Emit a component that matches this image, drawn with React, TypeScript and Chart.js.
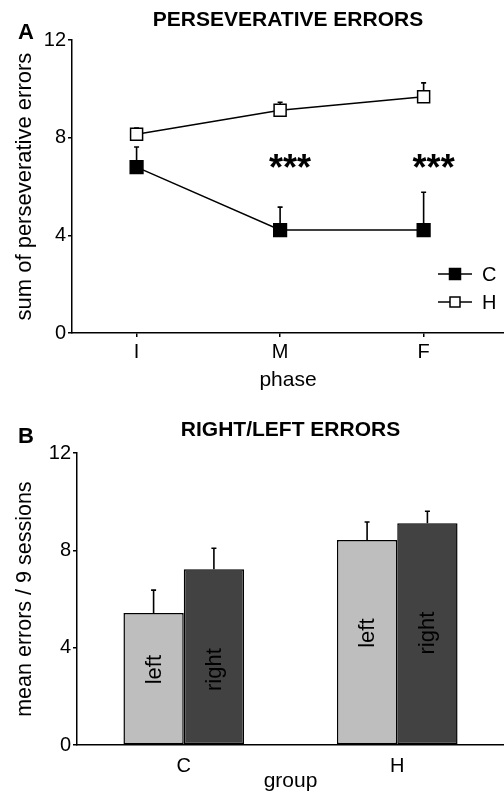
import React, { useEffect, useRef } from 'react';
import { Chart, registerables } from 'chart.js';

Chart.register(...registerables);

const FONT = '"Liberation Sans", Arial, Helvetica, sans-serif';

// ---- Panel A data ----
const phases = ['I', 'M', 'F'];
const phaseX = [0, 1, 2];
const cMeans = [6.8, 4.22, 4.22];
const cErrs = [0.82, 0.94, 1.55];
const hMeans = [8.15, 9.13, 9.68];
const hErrs = [0.25, 0.33, 0.57];
const stars = ['', '***', '***'];
const starLevel = 7.0;

// ---- Panel B data ----
const groups = ['C', 'H'];
const leftMeans = [5.43, 8.43];
const leftErrs = [0.94, 0.74];
const rightMeans = [7.23, 9.12];
const rightErrs = [0.86, 0.49];
const sideLabels = ['left', 'right'];

const errorBarPlugin = {
  id: 'errorBars',
  beforeDatasetsDraw(chart: any) {
    const ctx = chart.ctx;
    const yScale = chart.scales.y;
    chart.data.datasets.forEach((ds: any, i: number) => {
      const errs = ds.errors;
      if (!errs) return;
      const meta = chart.getDatasetMeta(i);
      meta.data.forEach((el: any, j: number) => {
        const d = ds.data[j];
        const val = typeof d === 'number' ? d : d.y;
        const x = el.x;
        const y0 = yScale.getPixelForValue(val);
        const y1 = yScale.getPixelForValue(val + errs[j]);
        ctx.save();
        ctx.strokeStyle = '#000';
        ctx.lineWidth = 1.6;
        ctx.beginPath();
        ctx.moveTo(x, y0);
        ctx.lineTo(x, y1);
        ctx.moveTo(x - 2.5, y1);
        ctx.lineTo(x + 2.5, y1);
        ctx.stroke();
        ctx.restore();
      });
    });
  },
};

const panelLabelPlugin = {
  id: 'panelLabel',
  afterDraw(chart: any, _args: any, opts: any) {
    const ctx = chart.ctx;
    ctx.save();
    ctx.fillStyle = '#000';
    ctx.font = `bold 22px ${FONT}`;
    ctx.textAlign = 'center';
    ctx.textBaseline = 'middle';
    ctx.fillText(opts.text, opts.x, opts.y);
    ctx.restore();
  },
};

const starsLegendPlugin = {
  id: 'starsLegend',
  afterDraw(chart: any) {
    const ctx = chart.ctx;
    const xs = chart.scales.x;
    const ys = chart.scales.y;
    ctx.save();
    ctx.fillStyle = '#000';
    ctx.font = `bold 36px ${FONT}`;
    ctx.textAlign = 'center';
    ctx.textBaseline = 'alphabetic';
    stars.forEach((s, i) => {
      if (!s) return;
      ctx.fillText(s, xs.getPixelForValue(phaseX[i]) + 10, ys.getPixelForValue(starLevel) + 18);
    });
    // legend
    const right = chart.chartArea.right;
    chart.data.datasets.forEach((ds: any, i: number) => {
      const cy = 274 + i * 28;
      ctx.strokeStyle = '#000';
      ctx.lineWidth = 1.5;
      ctx.beginPath();
      ctx.moveTo(right - 66, cy);
      ctx.lineTo(right - 32, cy);
      ctx.stroke();
      const side = i === 0 ? 11 : 10;
      ctx.fillStyle = ds.pointBackgroundColor;
      ctx.fillRect(right - 49 - side / 2, cy - side / 2, side, side);
      ctx.strokeRect(right - 49 - side / 2, cy - side / 2, side, side);
      ctx.fillStyle = '#000';
      ctx.font = `20px ${FONT}`;
      ctx.textAlign = 'left';
      ctx.textBaseline = 'middle';
      ctx.fillText(ds.label, right - 22, cy + 1);
    });
    ctx.restore();
  },
};

const barLabelPlugin = {
  id: 'barLabels',
  afterDatasetsDraw(chart: any) {
    const ctx = chart.ctx;
    const m0 = chart.getDatasetMeta(0);
    ctx.save();
    ctx.fillStyle = '#000';
    ctx.font = `22px ${FONT}`;
    ctx.textAlign = 'center';
    ctx.textBaseline = 'middle';
    groups.forEach((_g, j) => {
      const ref = m0.data[j];
      const mid = (ref.y + ref.base) / 2 - 9;
      chart.data.datasets.forEach((_ds: any, i: number) => {
        const el = chart.getDatasetMeta(i).data[j];
        ctx.save();
        ctx.translate(el.x, mid);
        ctx.rotate(-Math.PI / 2);
        ctx.fillText(sideLabels[i], 0, 1);
        ctx.restore();
      });
    });
    ctx.restore();
  },
};

const axisCommon = {
  grid: { drawOnChartArea: false, drawTicks: true, tickLength: 4, color: '#000', lineWidth: 1.5 },
  border: { color: '#000', width: 1.5 },
};

export default function App() {
  const topRef = useRef<HTMLCanvasElement>(null);
  const botRef = useRef<HTMLCanvasElement>(null);

  useEffect(() => {
    document.body.style.margin = '0';
    const top = new Chart(topRef.current as HTMLCanvasElement, {
      type: 'line',
      data: {
        datasets: [
          {
            label: 'C',
            data: phaseX.map((x, i) => ({ x, y: cMeans[i] })),
            errors: cErrs,
            borderColor: '#000',
            borderWidth: 1.5,
            pointStyle: 'rect',
            pointRadius: 9,
            pointBackgroundColor: '#000',
            pointBorderColor: '#000',
            pointBorderWidth: 1.5,
            tension: 0,
          } as any,
          {
            label: 'H',
            data: phaseX.map((x, i) => ({ x, y: hMeans[i] })),
            errors: hErrs,
            borderColor: '#000',
            borderWidth: 1.5,
            pointStyle: 'rect',
            pointRadius: 8.5,
            pointBackgroundColor: '#fff',
            pointBorderColor: '#000',
            pointBorderWidth: 1.5,
            tension: 0,
          } as any,
        ],
      },
      options: {
        responsive: false,
        animation: false,
        layout: { padding: 0, autoPadding: false },
        plugins: {
          legend: { display: false },
          tooltip: { enabled: false },
          title: {
            display: true,
            text: 'PERSEVERATIVE ERRORS',
            fullSize: false,
            color: '#000',
            font: { family: FONT, size: 21, weight: 'bold', lineHeight: 1.2 },
            padding: { top: 8, bottom: 7 },
          },
          panelLabel: { text: 'A', x: 26, y: 33 },
        } as any,
        scales: {
          x: {
            type: 'linear',
            min: -0.45,
            max: 2.56,
            ...axisCommon,
            afterBuildTicks: (s: any) => {
              s.ticks = phaseX.map((v) => ({ value: v }));
            },
            afterFit: (s: any) => {
              s.height = 67;
              s.paddingRight = 0;
              s.paddingLeft = 0;
            },
            ticks: {
              color: '#000',
              padding: 3,
              font: { family: FONT, size: 20 },
              callback: (v: any) => phases[v] ?? '',
            },
            title: {
              display: true,
              text: 'phase',
              color: '#000',
              font: { family: FONT, size: 21, lineHeight: 1.2 },
              padding: { top: 0, bottom: 7 },
            },
          } as any,
          y: {
            min: 0,
            max: 12,
            ...axisCommon,
            afterFit: (s: any) => {
              s.width = 72;
            },
            ticks: { stepSize: 4, color: '#000', padding: 2, font: { family: FONT, size: 20 } },
            title: {
              display: true,
              text: 'sum of perseverative errors',
              color: '#000',
              font: { family: FONT, size: 22, lineHeight: 1.2 },
              padding: { top: 12, bottom: 0 },
            },
          } as any,
        },
      },
      plugins: [errorBarPlugin, panelLabelPlugin, starsLegendPlugin],
    });

    const bot = new Chart(botRef.current as HTMLCanvasElement, {
      type: 'bar',
      data: {
        labels: groups,
        datasets: [
          {
            label: 'left',
            data: leftMeans,
            errors: leftErrs,
            backgroundColor: '#bebebe',
            borderColor: '#000',
            borderWidth: 1.5,
            borderSkipped: false,
          } as any,
          {
            label: 'right',
            data: rightMeans,
            errors: rightErrs,
            backgroundColor: '#424242',
            borderColor: '#000',
            borderWidth: 1.5,
            borderSkipped: false,
          } as any,
        ],
      },
      options: {
        responsive: false,
        animation: false,
        layout: { padding: 0, autoPadding: false },
        datasets: { bar: { categoryPercentage: 0.565, barPercentage: 1 } },
        plugins: {
          legend: { display: false },
          tooltip: { enabled: false },
          title: {
            display: true,
            text: 'RIGHT/LEFT ERRORS',
            fullSize: false,
            color: '#000',
            font: { family: FONT, size: 21, weight: 'bold', lineHeight: 1.2 },
            padding: { top: 18, bottom: 10 },
          },
          panelLabel: { text: 'B', x: 26, y: 37 },
        } as any,
        scales: {
          x: {
            grid: { drawOnChartArea: false, drawTicks: false, display: false },
            border: { color: '#000', width: 1.5 },
            afterFit: (s: any) => {
              s.height = 50;
              s.paddingRight = 0;
              s.paddingLeft = 0;
            },
            ticks: { color: '#000', padding: 9, font: { family: FONT, size: 20 } },
            title: {
              display: true,
              text: 'group',
              color: '#000',
              font: { family: FONT, size: 21, lineHeight: 1.2 },
              padding: { top: 0, bottom: 1 },
            },
          } as any,
          y: {
            min: 0,
            max: 12,
            ...axisCommon,
            afterFit: (s: any) => {
              s.width = 77;
            },
            ticks: { stepSize: 4, color: '#000', padding: 2, font: { family: FONT, size: 20 } },
            title: {
              display: true,
              text: 'mean errors / 9 sessions',
              color: '#000',
              font: { family: FONT, size: 21.5, lineHeight: 1.2 },
              padding: { top: 12, bottom: 0 },
            },
          } as any,
        },
      },
      plugins: [errorBarPlugin, panelLabelPlugin, barLabelPlugin],
    });

    return () => {
      top.destroy();
      bot.destroy();
    };
  }, []);

  return (
    <div style={{ width: 504, height: 795, background: '#fff' }}>
      <canvas ref={topRef} width={504} height={400} style={{ display: 'block' }} />
      <canvas ref={botRef} width={504} height={395} style={{ display: 'block' }} />
    </div>
  );
}
